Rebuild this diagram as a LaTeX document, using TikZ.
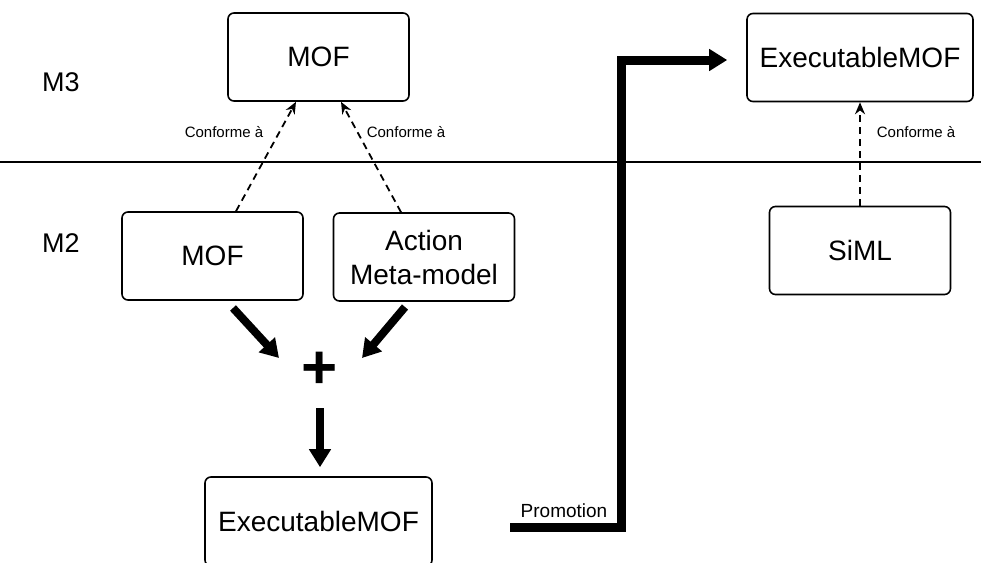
\documentclass[tikz,border=0pt]{standalone}
\usepackage{fontspec}
\setmainfont{Liberation Sans}
\usetikzlibrary{arrows.meta,positioning}

\begin{document}
\begin{tikzpicture}[x=1pt,y=-1pt,align=center]
    \tikzset{
        model/.style={
            draw,
            line width=1.6pt,
            rounded corners=6pt,
            minimum width=181pt,
            minimum height=88pt,
            inner sep=0pt,
            font=\fontsize{28}{34}\selectfont
        },
        conform/.style={-{Stealth[length=12pt,width=10pt]}, line width=1.8pt, dash pattern=on 7pt off 5pt},
        fat/.style={-{Triangle[length=18pt,width=21pt]}, line width=8pt},
        small/.style={font=\fontsize{15}{18}\selectfont},
        level/.style={font=\fontsize{27}{32}\selectfont}
    }
    \useasboundingbox (0,0) rectangle (981,562);
    \clip (0,0) rectangle (981,562);

    % Levels
    \node[level] (M3) at (61,82) {M3};
    \node[level] (M2) at (61,243) {M2};
    \coordinate (sep_L) at (0,162);
    \coordinate (sep_R) at (981,162);
    \draw[line width=1.2pt] (sep_L) -- (sep_R);

    % M3 models
    \node[model] (MOF_top) at (318.5,57) {MOF};
    \node[model,minimum width=226pt] (XMOF_top) at (860,57.5) {ExecutableMOF};

    % M2 models
    \node[model] (MOF_m2) at (212.5,256) {MOF};
    \node[model] (Action) at (424,257) {Action\\Meta-model};
    \node[model] (SiML) at (860,250.5) {SiML};
    \node[model,minimum width=227pt,minimum height=89pt] (XMOF_bot) at (318.5,521.5) {ExecutableMOF};

    % Conformance
    \draw[conform] ([xshift=23.5pt]MOF_m2.north) -- ([xshift=-22.5pt]MOF_top.south);
    \draw[conform] ([xshift=-23pt]Action.north) -- ([xshift=22.5pt]MOF_top.south);
    \draw[conform] (SiML.north) -- (XMOF_top.south);
    \node[small] (conf_L) at (224,132) {Conforme à};
    \node[small] (conf_R) at (406,132) {Conforme à};
    \node[small] (conf_S) at (916,132) {Conforme à};

    % Composition
    \node[font=\fontsize{62}{62}\selectfont\bfseries] (plus) at (320,370) {+};
    \coordinate (mof_out) at (233,308);
    \coordinate (act_out) at (405,307);
    \coordinate (plus_inL) at (279,358);
    \coordinate (plus_inR) at (362,358);
    \coordinate (plus_out) at (320,408);
    \draw[fat] (mof_out) -- (plus_inL);
    \draw[fat] (act_out) -- (plus_inR);
    \draw[fat,shorten >=9pt] (plus_out) -- (plus_out |- XMOF_bot.north);

    % Promotion
    \coordinate (promo_start) at (510,527);
    \coordinate (promo_bend) at (621.5,60);
    \draw[fat,line width=9pt,shorten >=19pt] (promo_start) -| (promo_bend) -- ([yshift=-2.5pt]XMOF_top.west);
    \node[font=\fontsize{19}{22}\selectfont] (promo_lbl) at (564,511) {Promotion};
\end{tikzpicture}
\end{document}
